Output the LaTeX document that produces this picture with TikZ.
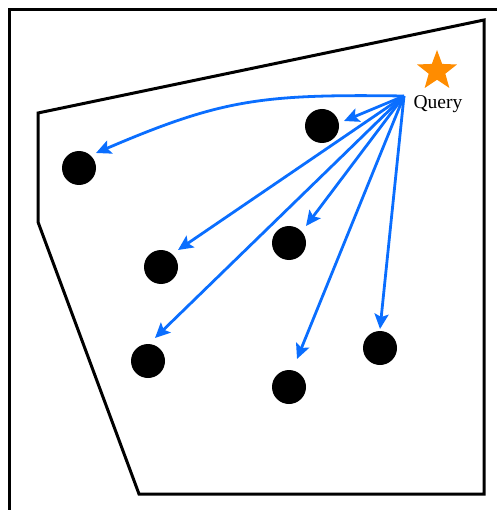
\documentclass[tikz,border=0pt]{standalone}
\usepackage{fontspec}
\setmainfont{Liberation Serif}
\usetikzlibrary{arrows.meta,shapes.geometric}
\definecolor{qblue}{RGB}{10,110,255}
\definecolor{qorange}{RGB}{255,140,0}
\tikzset{
  dot/.style={circle,fill=black,inner sep=0pt,minimum size=34pt},
  frameline/.style={line width=3pt,line join=miter},
  qarrow/.style={qblue,line width=2.8pt,-{Stealth[length=15pt,width=14pt,inset=3pt]}},
  star5/.style={star,star points=5,star point ratio=2.4,fill=qorange,inner sep=0pt,minimum size=42pt}
}
\begin{document}
\begin{tikzpicture}[x=1pt,y=-1pt]
\useasboundingbox (0,0) rectangle (496,510);
% outer frame (partially outside)
\draw[frameline] (9,530) -- (9,10) -- (520,10);
% polygon
\draw[frameline] (38,113) -- (484,20) -- (484,494) -- (139,494) -- (38,222) -- cycle;
% dots
\node[dot] (d1) at (79,168) {};
\node[dot] (d2) at (322,126) {};
\node[dot] (d3) at (161,267) {};
\node[dot] (d4) at (289,243) {};
\node[dot] (d5) at (148,361) {};
\node[dot] (d6) at (380,348) {};
\node[dot] (d7) at (289,387) {};
% query
\node[star5] (star) at (437,71) {};
\node[font=\fontsize{19.5}{19.5}\selectfont] (qlabel) at (438,104) {Query};
\coordinate (q) at (404,96);
% arrow tips
\coordinate (t1) at (96,153);
\coordinate (t2) at (344,121);
\coordinate (t3) at (178,250);
\coordinate (t4) at (306,226);
\coordinate (t5) at (155,338);
\coordinate (t6) at (380,329);
\coordinate (t7) at (297,359);
% arrows
\draw[qarrow] (q) .. controls (262,94) and (222,99) .. (t1);
\draw[qarrow] (q) -- (t2);
\draw[qarrow] (q) -- (t3);
\draw[qarrow] (q) -- (t4);
\draw[qarrow] (q) -- (t5);
\draw[qarrow] (q) -- (t6);
\draw[qarrow] (q) -- (t7);
\end{tikzpicture}
\end{document}
